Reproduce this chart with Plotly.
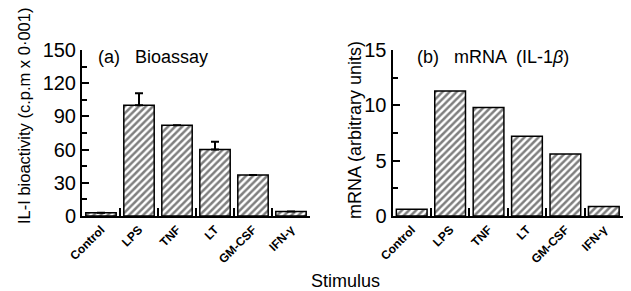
import plotly.graph_objects as go

categories = ["Control", "LPS", "TNF", "LT", "GM-CSF", "IFN-γ"]
bioassay = [3, 100, 82, 60, 37, 4]
bioassay_err = [0, 11, 0, 7, 0, 0]
mrna = [0.6, 11.3, 9.8, 7.2, 5.6, 0.85]

y1_ticks = [0, 30, 60, 90, 120, 150]
y2_ticks = [0, 5, 10, 15]

FONT = "Liberation Sans"
W, H = 631, 291

fig = go.Figure()

pattern = dict(shape="/", fgcolor="black", bgcolor="white", size=5, solidity=0.5)

fig.add_trace(go.Bar(
    x=categories, y=bioassay, xaxis="x", yaxis="y",
    marker=dict(color="white", pattern=pattern, line=dict(color="black", width=1.5)),
    error_y=dict(type="data", symmetric=False, array=bioassay_err,
                 arrayminus=[0] * len(bioassay_err), color="black", thickness=2, width=4),
    showlegend=False,
))
fig.add_trace(go.Bar(
    x=categories, y=mrna, xaxis="x2", yaxis="y2",
    marker=dict(color="white", pattern=pattern, line=dict(color="black", width=1.5)),
    showlegend=False,
))

def xd(a, b):
    return [a / W, b / W]

def yd(top, bottom):
    return [(H - bottom) / H, (H - top) / H]

xcommon = dict(showline=True, linecolor="black", linewidth=2, ticks="inside",
               tickson="boundaries", ticklen=8, tickwidth=1.5, tickcolor="black",
               tickangle=-45, tickfont=dict(family=FONT, size=12, color="black", weight="bold"),
               automargin=False, showgrid=False, zeroline=False)
ycommon = dict(showline=True, linecolor="black", linewidth=2, ticks="inside",
               ticklen=7, tickwidth=1.5, tickcolor="black",
               tickfont=dict(family=FONT, size=20, color="black"),
               automargin=False, showgrid=False, zeroline=False)

fig.update_layout(
    width=W, height=H,
    margin=dict(l=0, r=0, t=0, b=0),
    paper_bgcolor="white", plot_bgcolor="white",
    bargap=0.2,
    xaxis=dict(domain=xd(82, 310), anchor="y", **xcommon),
    xaxis2=dict(domain=xd(392.5, 623), anchor="y2", **xcommon),
    yaxis=dict(domain=yd(50, 216), anchor="x", range=[0, 150], tickvals=y1_ticks,
               minor=dict(dtick=15, ticks="inside", ticklen=5, tickcolor="black", tickwidth=1.5),
               **ycommon),
    yaxis2=dict(domain=yd(50, 216), anchor="x2", range=[0, 15], tickvals=y2_ticks,
                minor=dict(dtick=2.5, ticks="inside", ticklen=5, tickcolor="black", tickwidth=1.5),
                **ycommon),
    annotations=[
        dict(text="(a)   Bioassay", x=96 / W, y=(H - 57) / H, xref="paper", yref="paper",
             xanchor="left", yanchor="middle", showarrow=False,
             font=dict(family=FONT, size=18, color="black")),
        dict(text="(b)   mRNA  (IL-1<i>β</i>)", x=415 / W, y=(H - 57) / H, xref="paper", yref="paper",
             xanchor="left", yanchor="middle", showarrow=False,
             font=dict(family=FONT, size=18, color="black")),
        dict(text="IL-I bioactivity (c.p.m x 0·001)", x=24 / W, y=(H - 116) / H,
             xref="paper", yref="paper", textangle=-90, showarrow=False,
             xanchor="center", yanchor="middle",
             font=dict(family=FONT, size=16.5, color="black")),
        dict(text="mRNA (arbitrary units)", x=355 / W, y=(H - 130) / H,
             xref="paper", yref="paper", textangle=-90, showarrow=False,
             xanchor="center", yanchor="middle",
             font=dict(family=FONT, size=18, color="black")),
        dict(text="Stimulus", x=345 / W, y=(H - 281) / H, xref="paper", yref="paper",
             xanchor="center", yanchor="middle", showarrow=False,
             font=dict(family=FONT, size=18, color="black")),
    ],
)

fig.write_html("out.html", config={"displayModeBar": False},
               post_script="document.body.style.margin='0';document.body.style.overflow='hidden';")
